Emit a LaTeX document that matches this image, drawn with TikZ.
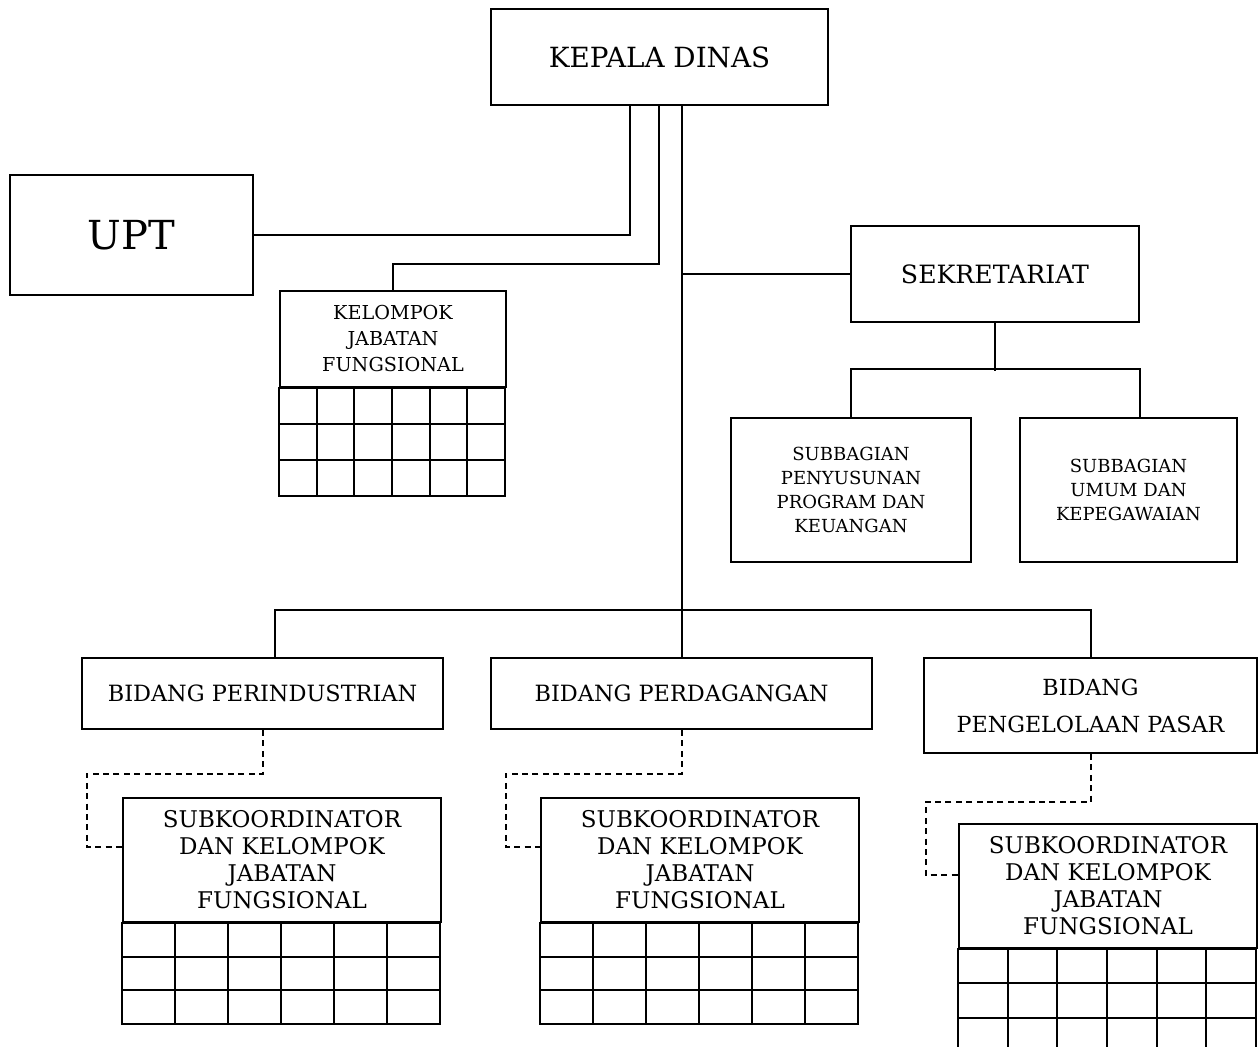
\documentclass[tikz,border=0pt]{standalone}
\usepackage{fontspec}
\setmainfont{DejaVu Serif}
\usetikzlibrary{calc}

\newcommand\setfs[2]{\fontsize{#1}{#2}\selectfont}

\tikzset{
  box/.style={draw, line width=2pt, align=center, inner sep=0pt},
  link/.style={line width=2pt},
  dashlink/.style={line width=2pt, dash pattern=on 6pt off 4.4pt},
  cell/.style={line width=2pt}
}

\begin{document}
\begin{tikzpicture}[x=1pt, y=-1pt]
  \useasboundingbox (0,0) rectangle (1259,1047);

  % top level
  \node[box, minimum width=337pt, minimum height=96pt, font=\setfs{27.8}{33}] (kadis) at (659.5,57) {KEPALA DINAS};
  \node[box, minimum width=243pt, minimum height=120pt, font=\setfs{40}{48}] (upt) at (131.5,235) {UPT};
  \node[box, minimum width=226pt, minimum height=96pt, font=\setfs{19.2}{26}] (kjf) at (393,339) {KELOMPOK\\JABATAN\\FUNGSIONAL};
  \node[box, minimum width=288pt, minimum height=96pt, font=\setfs{25.2}{30}] (sek) at (995,274) {SEKRETARIAT};

  % subbagian
  \node[box, minimum width=240pt, minimum height=144pt, font=\setfs{18}{24}] (sbA) at (851,490) {SUBBAGIAN\\PENYUSUNAN\\PROGRAM DAN\\KEUANGAN};
  \node[box, minimum width=217pt, minimum height=144pt, font=\setfs{18}{24}] (sbB) at (1128.5,490) {SUBBAGIAN\\UMUM DAN\\KEPEGAWAIAN};

  % bidang
  \node[box, minimum width=361pt, minimum height=71pt, font=\setfs{22.4}{27}] (bidA) at (262.5,693.5) {BIDANG PERINDUSTRIAN};
  \node[box, minimum width=381pt, minimum height=71pt, font=\setfs{22.4}{27}] (bidB) at (681.5,693.5) {BIDANG PERDAGANGAN};
  \node[box, minimum width=333pt, minimum height=95pt, font=\setfs{22.2}{37}] (bidC) at (1090.5,705.5) {BIDANG\\PENGELOLAAN PASAR};

  % subkoordinator
  \node[box, minimum width=318pt, minimum height=124pt, font=\setfs{23}{27}] (skA) at (282,860) {SUBKOORDINATOR\\DAN KELOMPOK\\JABATAN\\FUNGSIONAL};
  \node[box, minimum width=318pt, minimum height=124pt, font=\setfs{23}{27}] (skB) at (700,860) {SUBKOORDINATOR\\DAN KELOMPOK\\JABATAN\\FUNGSIONAL};
  \node[box, minimum width=298pt, minimum height=124pt, font=\setfs{23}{27}] (skC) at (1108,886) {SUBKOORDINATOR\\DAN KELOMPOK\\JABATAN\\FUNGSIONAL};

  % grids under the jabatan fungsional boxes
  \foreach \n/\w/\h in {kjf/226/36, skA/318/33.7, skB/318/33.7, skC/298/34.3} {
    \draw[cell] (\n.south west) rectangle ++(\w,3*\h);
    \foreach \i in {1,...,5}
      \draw[cell] ($(\n.south west)+(\i*\w/6,0)$) -- ++(0,3*\h);
    \foreach \j in {1,2}
      \draw[cell] ($(\n.south west)+(0,\j*\h)$) -- ++(\w,0);
  }

  % solid lines
  \coordinate (bus) at (682,610);
  \draw[link] (upt.east) -| ($(kadis.south)+(-29.5,0)$);
  \draw[link] ($(kadis.south)+(-0.5,0)$) -- ++(0,158) -| (kjf.north);
  \draw[link] ($(kadis.south)+(22.5,0)$) -- (bus);
  \draw[link] (sek.west -| bus) -- (sek.west);
  \draw[link] (sek.south) -- ++(0,48);
  \draw[link] (sbA.north) -- ++(0,-48) -| (sbB.north -| sek.east);
  \draw[link] ($(bidA.north)+(12,0)$) |- (bus) -| (bidC.north);
  \draw[link] (bus) -- (bus |- bidB.north);

  % dashed lines
  \draw[dashlink] (bidA.south) |- ++(-176,44) |- ($(skA.west)+(0,-13)$);
  \draw[dashlink] (bidB.south) |- ++(-176,44) |- ($(skB.west)+(0,-13)$);
  \draw[dashlink] (bidC.south) |- ++(-165,48) |- ($(skC.west)+(0,-11)$);
\end{tikzpicture}
\end{document}
